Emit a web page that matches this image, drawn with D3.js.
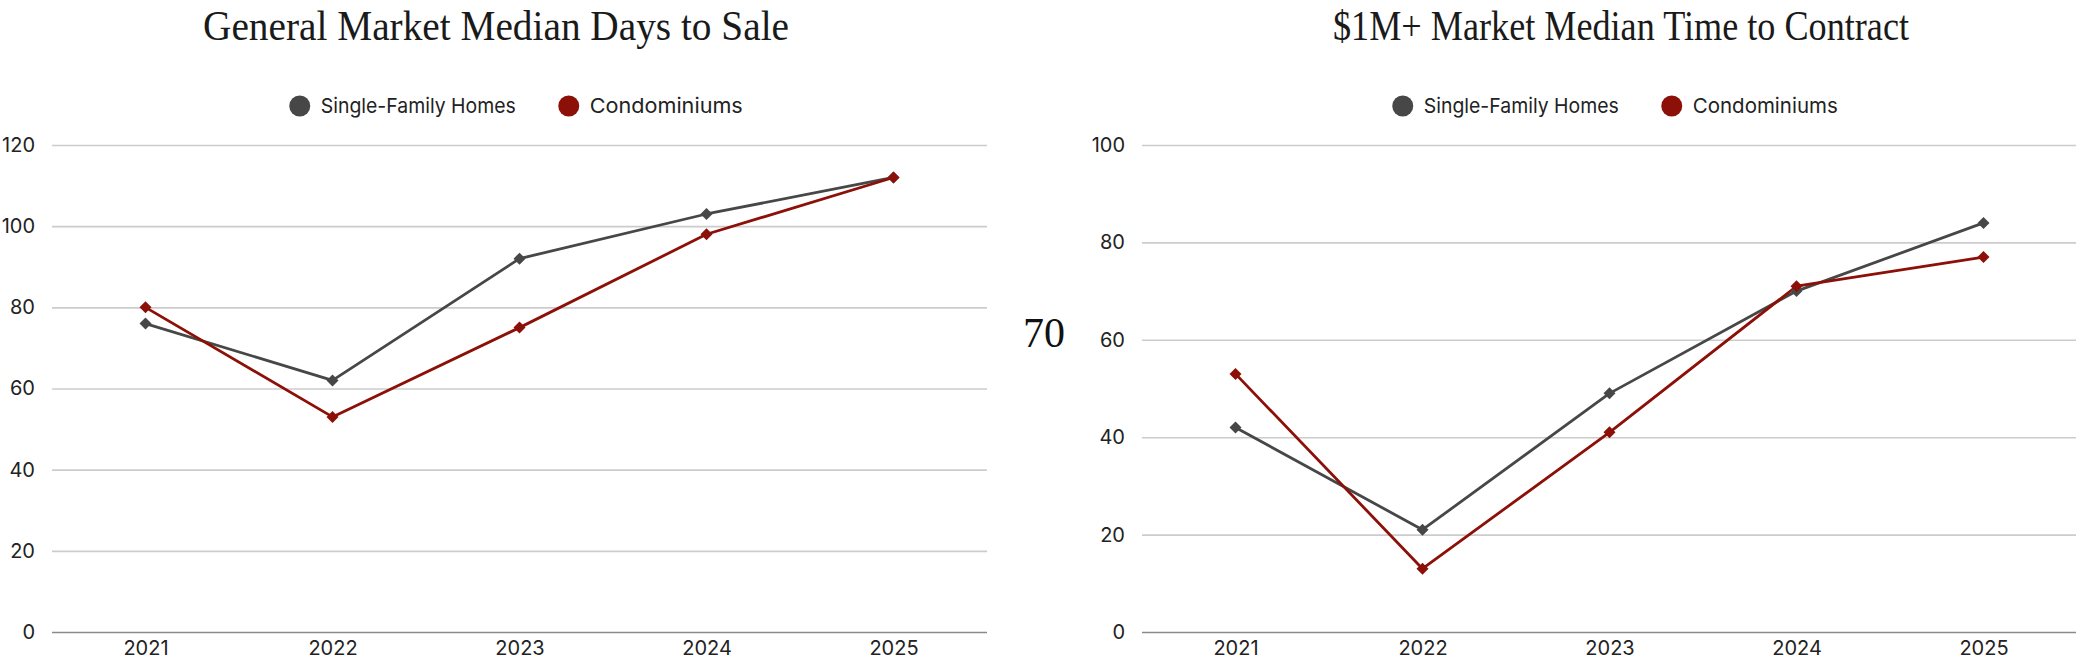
<!DOCTYPE html>
<html><head><meta charset="utf-8">
<script src="https://cdn.jsdelivr.net/npm/d3@7"></script>
<style>
html,body{margin:0;padding:0;background:#fff;}
svg{display:block;}
</style></head>
<body>
<svg id="c" width="2076" height="665"></svg>
<script>
const years = ["2021","2022","2023","2024","2025"];
const seriesNames = ["Single-Family Homes","Condominiums"];
const generalSFH = [76, 62, 92, 103, 112];
const generalCondo = [80, 53, 75, 98, 112];
const luxurySFH = [42, 21, 49, 70, 84];
const luxuryCondo = [53, 13, 41, 71, 77];
const generalTicks = [0, 20, 40, 60, 80, 100, 120];
const luxuryTicks = [0, 20, 40, 60, 80, 100];
const titles = ["General Market Median Days to Sale", "$1M+ Market Median Time to Contract"];
const strayLabel = "70";

const colors = ["#474747", "#8c1007"];
const svg = d3.select("#c");
const sans = "Inter, 'Noto Sans', sans-serif";
const serif = "'Liberation Serif', 'DejaVu Serif', serif";

function panel(cfg){
  const g = svg.append("g");
  const x = d3.scalePoint().domain(years).range([cfg.x0, cfg.x1]).padding(0.5);
  const y = d3.scaleLinear().domain([0, d3.max(cfg.ticks)]).range([632, 145]);

  // title
  const t = g.append("text").attr("x", cfg.titleX).attr("y", 40)
    .attr("text-anchor","middle").attr("font-family", serif)
    .attr("font-size", 43).attr("fill","#1a1a1a").text(cfg.title);
  t.attr("textLength", cfg.titleW).attr("lengthAdjust","spacingAndGlyphs");

  // grid
  const yAxis = d3.axisLeft(y).tickValues(cfg.ticks).tickSize(-(cfg.x1 - cfg.x0)).tickPadding(17);
  const ga = g.append("g").attr("transform", `translate(${cfg.x0},0)`).call(yAxis);
  ga.select(".domain").remove();
  ga.selectAll(".tick line").attr("stroke", d => d === 0 ? "#8a8a8a" : "#cccccc").attr("stroke-width", 1.6);
  ga.selectAll(".tick text").attr("font-family", sans).attr("font-size", 20).attr("fill","#222");

  const xAxis = d3.axisBottom(x).tickSize(0).tickPadding(9);
  const gx = g.append("g").attr("transform", `translate(0,632)`).call(xAxis);
  gx.select(".domain").remove();
  gx.selectAll(".tick text").attr("font-family", sans).attr("font-size", 20).attr("fill","#222");

  const line = d3.line().x((d,i)=>x(years[i])).y(d=>y(d));
  cfg.series.forEach((vals, si) => {
    g.append("path").datum(vals).attr("d", line).attr("fill","none")
      .attr("stroke", colors[si]).attr("stroke-width", 2.8).attr("stroke-linejoin","round");
  });
  cfg.series.forEach((vals, si) => {
    g.selectAll(null).data(vals).join("path")
      .attr("d", d3.symbol(d3.symbolSquare, 72))
      .attr("transform", (d,i)=>`translate(${x(years[i])},${y(d)}) rotate(45)`)
      .attr("fill", colors[si]);
  });

  // legend
  const lg = g.append("g");
  let cx = 0;
  seriesNames.forEach((n, i) => {
    const it = lg.append("g");
    it.append("circle").attr("cx", 0).attr("cy", 0).attr("r", 10.5).attr("fill", colors[i]);
    it.append("text").attr("x", 21).attr("y", 7).attr("font-family", sans)
      .attr("font-size", 20.5).attr("fill","#222").text(n)
      .attr("textLength", cfg.legendW[i]).attr("lengthAdjust","spacingAndGlyphs");
    it.attr("transform", `translate(${cx},0)`);
    cx += 21 + cfg.legendW[i] + 53;
  });
  const total = cx - 53 + 10.5;
  lg.attr("transform", `translate(${cfg.legendX - total/2 + 10.5},106)`);
}

panel({x0:52, x1:987, ticks: generalTicks, series:[generalSFH, generalCondo],
  title: titles[0], titleX: 496, titleW: 586, legendX: 516, legendW:[195, 153]});
panel({x0:1142, x1:2077, ticks: luxuryTicks, series:[luxurySFH, luxuryCondo],
  title: titles[1], titleX: 1621, titleW: 576, legendX: 1615, legendW:[195, 145]});

svg.append("text").attr("x", 1044).attr("y", 347).attr("text-anchor","middle")
  .attr("font-family", serif).attr("font-size", 42).attr("fill","#111").text(strayLabel);
</script>
</body></html>
